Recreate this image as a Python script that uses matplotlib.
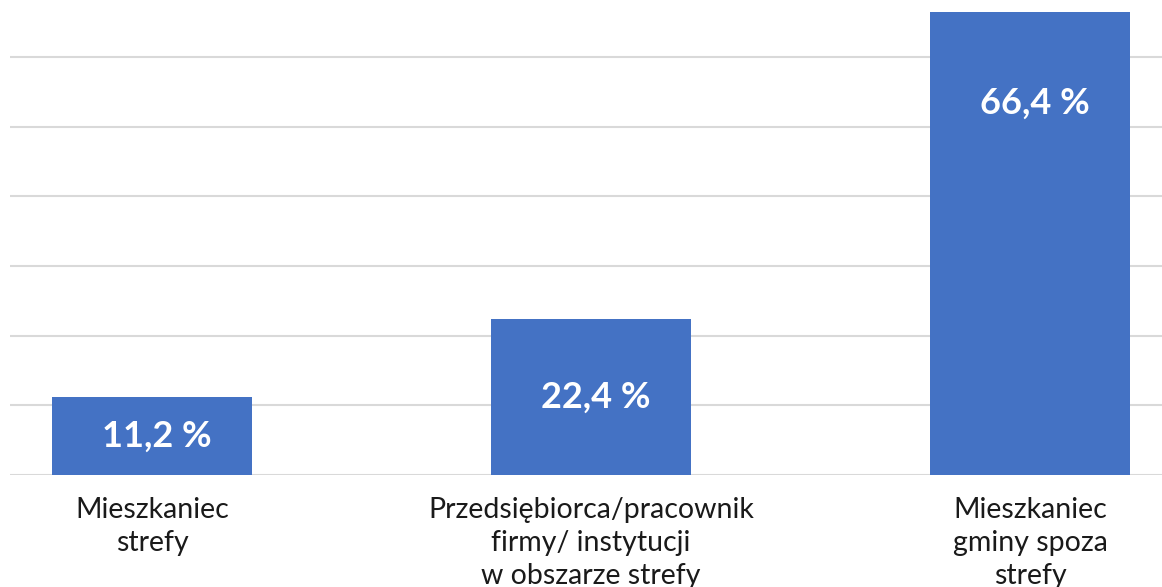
import numpy as np
import matplotlib.pyplot as plt

categories = ["Mieszkaniec\nstrefy",
              "Przedsiębiorca/pracownik\nfirmy/ instytucji\nw obszarze strefy",
              "Mieszkaniec\ngminy spoza\nstrefy"]
values = [11.2, 22.4, 66.4]
value_labels = ["11,2 %", "22,4 %", "66,4 %"]

plt.rcParams['font.family'] = ['Lato', 'DejaVu Sans']

fig = plt.figure(figsize=(11.62, 5.87), dpi=100)
ax = fig.add_axes([10 / 1162, 112 / 587, 1152 / 1162, 475 / 587])

x = np.arange(len(values))
bars = ax.bar(x, values, width=0.4556, color='#4472C4', zorder=3)

for xi, v, lab in zip(x, values, value_labels):
    # tall bar gets its label near the top, the others in the middle
    ly = v - 13 if v > 40 else v / 2
    ax.text(xi + 0.01, ly, lab, ha='center', va='center', color='white',
            fontsize=26, fontweight='bold', zorder=4)

ax.set_xlim(-0.3235, 2.3007)
ax.set_ylim(0, 68.18)
ax.set_yticks(np.arange(0, 70, 10))
ax.yaxis.grid(True, color='#D9D9D9', linewidth=1.5, zorder=0)
ax.tick_params(axis='y', left=False, labelleft=False)
ax.tick_params(axis='x', length=0, pad=15.5)
ax.set_xticks(x)
ax.set_xticklabels(categories, fontsize=20.5, color='#1a1a1a', linespacing=1.35)
for s in ax.spines.values():
    s.set_visible(False)

fig.savefig('out.png', dpi=100)
